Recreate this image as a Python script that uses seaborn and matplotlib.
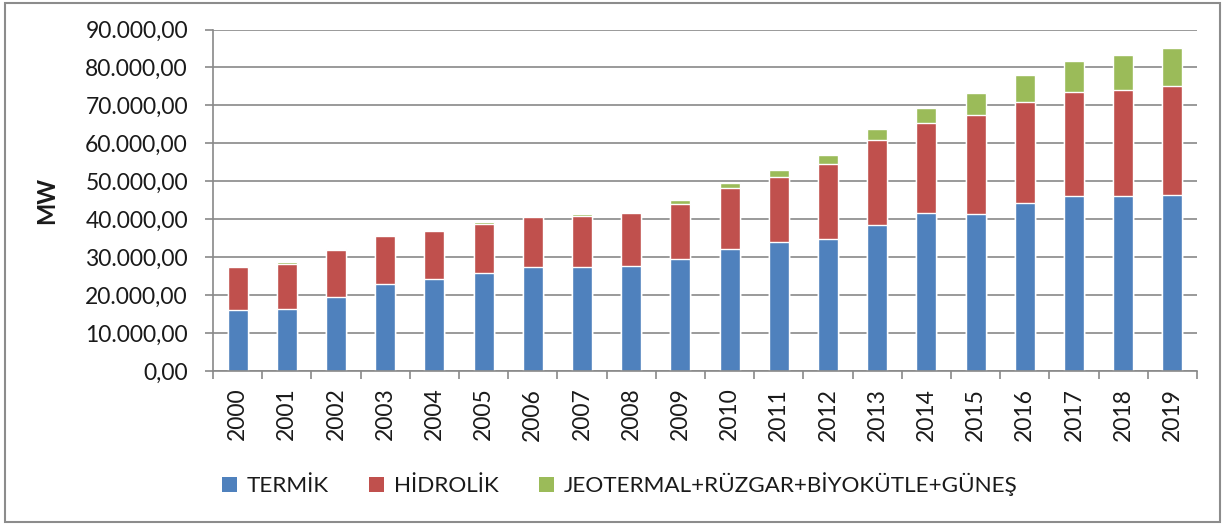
import numpy as np
import pandas as pd
import matplotlib
matplotlib.use("Agg")
import matplotlib.pyplot as plt
import seaborn as sns
from matplotlib.patches import Patch, Rectangle
from matplotlib.ticker import FuncFormatter, MultipleLocator, FixedLocator

# --- data (MW) ---
years = [str(y) for y in range(2000, 2020)]
termik = [16000, 16400, 19600, 22900, 24300, 25900, 27300, 27300, 27600, 29400,
          32200, 33900, 34900, 38600, 41700, 41400, 44200, 46100, 46100, 46400]
hidrolik = [11300, 11900, 12200, 12600, 12600, 12900, 13300, 13600, 14000, 14600,
            15900, 17300, 19600, 22400, 23600, 26100, 26600, 27400, 28000, 28800]
yenilenebilir = [300, 300, 300, 300, 300, 350, 350, 350, 350, 1000,
                 1400, 1700, 2400, 2900, 4100, 5800, 7100, 8100, 9300, 9800]

labels = ["TERMİK", "HİDROLİK", "JEOTERMAL+RÜZGAR+BİYOKÜTLE+GÜNEŞ"]
colors = ["#4F81BD", "#C0504D", "#9BBB59"]

df = pd.DataFrame({"year": years, "termik": termik,
                   "hidrolik": hidrolik, "yenilenebilir": yenilenebilir})
df["t_h"] = df["termik"] + df["hidrolik"]
df["total"] = df["t_h"] + df["yenilenebilir"]

sns.set_style("white")
plt.rcParams["font.family"] = ["Lato", "DejaVu Sans"]
grid_col = "#898989"
txt_col = "#1a1a1a"

fig = plt.figure(figsize=(12.26, 5.26), dpi=100)
ax = fig.add_axes([213 / 1226, 1 - 371 / 526, (1197 - 213) / 1226, (371 - 29.5) / 526])

# stacked look: draw totals from back to front
bw = 0.41
sns.barplot(data=df, x="year", y="total", color=colors[2], width=bw, saturation=1, ax=ax)
sns.barplot(data=df, x="year", y="t_h", color=colors[1], width=bw, saturation=1, ax=ax)
sns.barplot(data=df, x="year", y="termik", color=colors[0], width=bw, saturation=1, ax=ax)

ax.set_ylim(0, 90000)
ax.set_xlim(-0.5, len(years) - 0.5)
ax.yaxis.set_major_locator(MultipleLocator(10000))
ax.yaxis.set_major_formatter(FuncFormatter(
    lambda v, p: f"{v:,.2f}".replace(",", "X").replace(".", ",").replace("X", ".")))
ax.set_axisbelow(True)
ax.grid(axis="y", color=grid_col, linewidth=1.2)
ax.grid(axis="x", visible=False)

for s in ["top", "right"]:
    ax.spines[s].set_visible(False)
for s in ["left", "bottom"]:
    ax.spines[s].set_color(grid_col)
    ax.spines[s].set_linewidth(1.2)

ax.tick_params(axis="y", which="major", left=True, length=6, width=1.2, color=grid_col,
               pad=12, labelsize=16.5, labelcolor=txt_col)
ax.tick_params(axis="x", which="major", length=0, pad=12, labelsize=16.5,
               labelrotation=90, labelcolor=txt_col)
ax.xaxis.set_minor_locator(FixedLocator(np.arange(-0.5, len(years), 1.0)))
ax.tick_params(axis="x", which="minor", bottom=True, length=6, width=1.2, color=grid_col)

ax.set_xlabel("")
ax.set_ylabel("MW", fontsize=17, fontweight="bold", color=txt_col)
ax.yaxis.set_label_coords((58 - 213) / (1197 - 213), 0.5)

handles = [Patch(facecolor=c, edgecolor="none") for c in colors]
fig.legend(handles, labels, loc="center left", bbox_to_anchor=(222 / 1226, 1 - 484 / 526),
           ncol=3, frameon=False, fontsize=16.2, handlelength=0.65, handleheight=0.65,
           handletextpad=0.45, columnspacing=1.8, borderpad=0, borderaxespad=0,
           labelcolor=txt_col)

# outer chart border
fig.patches.append(Rectangle((5 / 1226, 4 / 526), 1 - 11 / 1226, 1 - 7 / 526,
                             transform=fig.transFigure, fill=False,
                             edgecolor="#8c8c8c", linewidth=1.5))

fig.savefig("out.png", dpi=100)
